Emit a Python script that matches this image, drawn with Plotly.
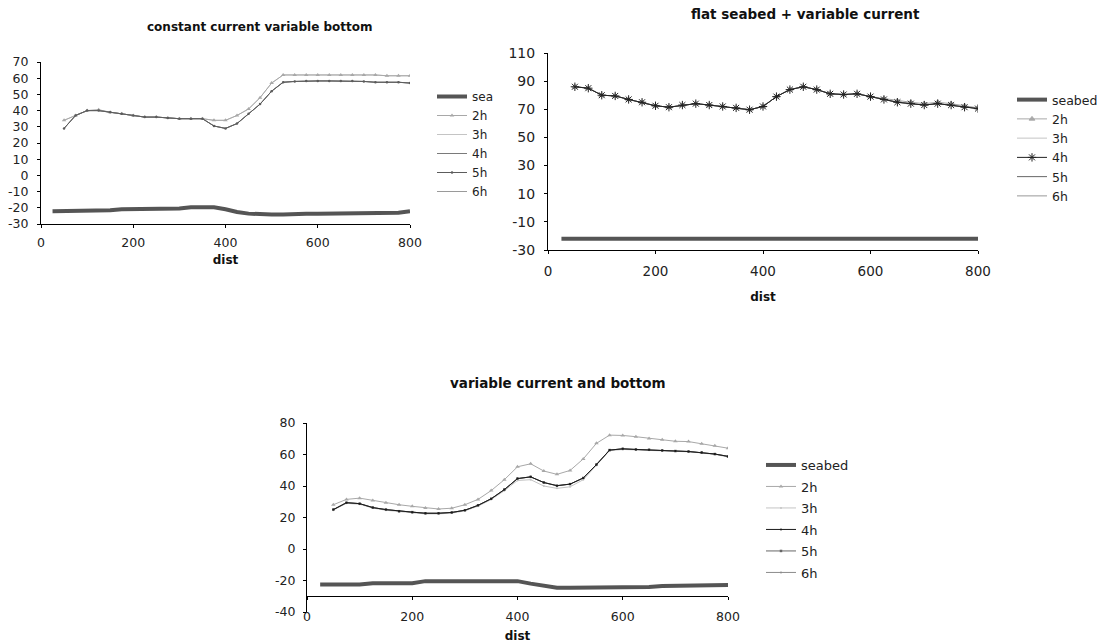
import plotly.graph_objects as go

# ---------------- data ----------------
dist_seabed = [25, 50, 75, 100, 125, 150, 175, 200, 225, 250, 275, 300, 325, 350, 375, 400,
               425, 450, 475, 500, 525, 550, 575, 600, 625, 650, 675, 700, 725, 750, 775, 800]
dist = [50, 75, 100, 125, 150, 175, 200, 225, 250, 275, 300, 325, 350, 375, 400,
        425, 450, 475, 500, 525, 550, 575, 600, 625, 650, 675, 700, 725, 750, 775, 800]

# chart 1: constant current variable bottom
cc_seabed = [-22.1, -22.1, -21.5, -21.5, -21.5, -21.5, -20.9, -20.9, -20.9, -20.5, -20.5, -20.5,
             -19.7, -19.7, -19.7, -20.9, -22.6, -23.6, -24.2, -24.2, -24.2, -23.6, -23.6, -23.6,
             -23.6, -23.6, -23.6, -23.6, -23.0, -23.0, -23.0, -22.1]
cc_upper = [34, 37, 40, 40.5, 39, 38, 37, 36, 36, 35.5, 35, 35, 35, 34, 34,
            37, 41, 48, 57, 62, 62, 62, 62, 62, 62, 62, 62, 62, 61.5, 61.5, 61.5]
cc_lower = [29, 37, 40, 40, 39, 38, 37, 36, 36, 35.5, 35, 35, 35, 30.5, 29,
            32, 38, 44, 52, 57.5, 58, 58.3, 58.3, 58.3, 58.3, 58.3, 58, 57.5, 57.5, 57.5, 57]

# chart 2: flat seabed + variable current
fc_seabed = [-22, -22, -22, -22, -22, -22, -22, -22, -22, -22, -22, -22, -22, -22, -22, -22,
             -22, -22, -22, -22, -22, -22, -22, -22, -22, -22, -22, -22, -22, -22, -22, -22]
fc_2h = [86, 85, 80, 79.5, 77, 75, 72.5, 71.5, 73, 74, 73, 72, 71, 69.7, 72,
         79, 84, 86, 84, 81, 80.5, 81, 79, 77.5, 76, 75, 74, 75, 74, 72.5, 71]
fc_4h = [86, 85, 80, 79.5, 77, 75, 72.5, 71.5, 73, 74, 73, 72, 71, 69.7, 72,
         79, 84, 86, 84, 81, 80.5, 81, 79, 77, 75, 74, 73, 74, 73, 71.5, 70.5]

# chart 3: variable current and bottom
vc_seabed = [-22.5, -22.5, -22.5, -22.5, -21.7, -21.7, -21.7, -21.7, -20.4, -20.4, -20.4, -20.4,
             -19.8, -19.8, -19.8, -20.4, -22.0, -23.5, -24.6, -24.6, -24.6, -24.1, -24.1, -24.1,
             -24.1, -24.1, -23.5, -23.5, -22.9, -22.9, -22.9, -22.9]
vc_2h = [28.1, 31.5, 32.3, 30.8, 29.4, 28.1, 27.1, 26.1, 25.4, 25.9, 28.1, 31.5, 37.1, 44, 52.2,
         54.1, 49.5, 47.4, 49.9, 57.2, 67.1, 72.3, 72.1, 71.3, 70.2, 69.4, 68.4, 68.2, 66.9, 65.5, 64]
vc_3h = [24.6, 29, 28.4, 26, 24.6, 23.6, 23, 22.3, 22.3, 22.8, 24.2, 27.2, 31.4, 37, 43.5,
         44, 40, 38.5, 39.5, 44, 53, 62.4, 63.2, 62.9, 62.7, 62.3, 62, 61.7, 61, 60, 58.5]
vc_4h = [25, 29.4, 28.8, 26.3, 25, 24, 23.4, 22.7, 22.7, 23.2, 24.6, 27.7, 31.9, 37.7, 44.7,
         45.8, 42.2, 40.2, 41.2, 45.1, 53.6, 62.8, 63.6, 63.2, 63, 62.6, 62.2, 61.9, 61.3, 60.3, 58.8]

series_names = ["2h", "3h", "4h", "5h", "6h"]
x_ticks = [0, 200, 400, 600, 800]
y1_ticks = [-30, -20, -10, 0, 10, 20, 30, 40, 50, 60, 70]
y2_ticks = [-30, -10, 10, 30, 50, 70, 90, 110]
y3_ticks = [-40, -20, 0, 20, 40, 60, 80]

W, H = 1114, 644
FONT = "DejaVu Sans"


def px_x(p):
    return p / W


def px_y(p):
    return 1 - p / H


fig = go.Figure()

# ---------- chart 1 ----------
fig.add_trace(go.Scatter(x=dist_seabed, y=cc_seabed, name="sea", mode="lines",
                         line=dict(color="#555555", width=4), xaxis="x", yaxis="y",
                         legend="legend", legendrank=1))
c1_data = {"2h": cc_upper, "3h": cc_upper, "4h": cc_lower, "5h": cc_lower, "6h": cc_lower}
c1_style = {"2h": ("#a8a8a8", "lines+markers", "triangle-up", 4),
            "3h": ("#c4c4c4", "lines", None, 0),
            "4h": ("#7a7a7a", "lines", None, 0),
            "5h": ("#5c5c5c", "lines+markers", "circle", 2.5),
            "6h": ("#9a9a9a", "lines", None, 0)}
for n in ["6h", "3h", "2h", "4h", "5h"]:
    col, mode, sym, ms = c1_style[n]
    fig.add_trace(go.Scatter(x=dist, y=c1_data[n], name=n, mode=mode,
                             line=dict(color=col, width=1),
                             marker=dict(symbol=sym or "circle", size=ms, color=col),
                             xaxis="x", yaxis="y", legend="legend",
                             legendrank=series_names.index(n) + 2))

# ---------- chart 2 ----------
fig.add_trace(go.Scatter(x=dist_seabed, y=fc_seabed, name="seabed", mode="lines",
                         line=dict(color="#555555", width=4), xaxis="x2", yaxis="y2",
                         legend="legend2", legendrank=1))
c2_data = {"2h": fc_2h, "3h": fc_4h, "4h": fc_4h, "5h": fc_4h, "6h": fc_4h}
c2_style = {"2h": ("#a8a8a8", "lines+markers", "triangle-up", 5),
            "3h": ("#c4c4c4", "lines", None, 0),
            "4h": ("#222222", "lines+markers", "asterisk-open", 7),
            "5h": ("#666666", "lines", None, 0),
            "6h": ("#999999", "lines", None, 0)}
for n in ["2h", "3h", "6h", "5h", "4h"]:
    col, mode, sym, ms = c2_style[n]
    fig.add_trace(go.Scatter(x=dist, y=c2_data[n], name=n, mode=mode,
                             line=dict(color=col, width=1),
                             marker=dict(symbol=sym or "circle", size=ms, color=col,
                                         line=dict(color=col, width=1)),
                             xaxis="x2", yaxis="y2", legend="legend2",
                             legendrank=series_names.index(n) + 2))

# ---------- chart 3 ----------
fig.add_trace(go.Scatter(x=dist_seabed, y=vc_seabed, name="seabed", mode="lines",
                         line=dict(color="#555555", width=4), xaxis="x3", yaxis="y3",
                         legend="legend3", legendgroup="s", legendrank=1))
c3_data = {"2h": vc_2h, "3h": vc_3h, "4h": vc_4h, "5h": vc_4h, "6h": vc_4h}
c3_style = {"2h": ("#a8a8a8", "triangle-up", 4),
            "3h": ("#c4c4c4", "circle", 2),
            "4h": ("#1a1a1a", "circle", 2),
            "5h": ("#666666", "square", 2.5),
            "6h": ("#8c8c8c", "circle", 2)}
for n in ["2h", "3h", "6h", "5h", "4h"]:
    col, sym, ms = c3_style[n]
    fig.add_trace(go.Scatter(x=dist, y=c3_data[n], name=n, mode="lines+markers",
                             line=dict(color=col, width=1),
                             marker=dict(symbol=sym, size=ms, color=col),
                             xaxis="x3", yaxis="y3", legend="legend3", legendgroup=n,
                             legendrank=series_names.index(n) + 2))


def ttext(vals):
    return [str(v) for v in vals]


def axis_common(size):
    return dict(showgrid=False, zeroline=False, showline=True, linecolor="#000000",
                linewidth=1, ticks="outside", ticklen=3, tickcolor="#000000",
                tickfont=dict(family=FONT, size=size, color="#222222"))


xtitle = dict(text="<b>dist</b>", font=dict(family=FONT, size=12, color="#111111"))

# domains (paper)
d1x = [px_x(41), px_x(410)]
d1y = [px_y(224), px_y(62)]
d2x = [px_x(548), px_x(978)]
d2y = [px_y(250), px_y(53)]
d3x = [px_x(307), px_x(728)]
d3y = [px_y(612), px_y(423)]
y3range = [-40, 80]
x3pos = d3y[0] + (-30 - y3range[0]) / (y3range[1] - y3range[0]) * (d3y[1] - d3y[0])

fig.update_layout(
    width=W, height=H,
    margin=dict(l=0, r=0, t=0, b=0, autoexpand=False),
    paper_bgcolor="white", plot_bgcolor="white",
    font=dict(family=FONT, color="#222222"),
    xaxis=dict(domain=d1x, range=[0, 800], tickvals=x_ticks, ticktext=ttext(x_ticks), anchor="y",
               title=dict(xtitle, standoff=6), ticklabelstandoff=4, **axis_common(12.5)),
    yaxis=dict(domain=d1y, range=[-30, 70], tickvals=y1_ticks, ticktext=ttext(y1_ticks),
               anchor="x", ticklabelstandoff=6, **axis_common(12.5)),
    xaxis2=dict(domain=d2x, range=[0, 800], tickvals=x_ticks, ticktext=ttext(x_ticks),
                anchor="y2", title=dict(xtitle, standoff=14), ticklabelstandoff=6,
                **axis_common(13.5)),
    yaxis2=dict(domain=d2y, range=[-30, 110], tickvals=y2_ticks, ticktext=ttext(y2_ticks),
                anchor="x2", ticklabelstandoff=6, **axis_common(14)),
    xaxis3=dict(domain=d3x, range=[0, 800], tickvals=x_ticks, ticktext=ttext(x_ticks),
                anchor="free", position=x3pos, title=dict(xtitle, standoff=8),
                ticklabelstandoff=6, **axis_common(12.5)),
    yaxis3=dict(domain=d3y, range=y3range, tickvals=y3_ticks, ticktext=ttext(y3_ticks),
                anchor="x3", ticklabelstandoff=5, **axis_common(12.5)),
    legend=dict(x=px_x(432), y=px_y(82), xanchor="left", yanchor="top",
                font=dict(family=FONT, size=12, color="#222222"), bgcolor="rgba(0,0,0,0)",
                itemwidth=30, traceorder="normal"),
    legend2=dict(x=px_x(1012), y=px_y(85), xanchor="left", yanchor="top",
                 font=dict(family=FONT, size=12.5, color="#222222"), bgcolor="rgba(0,0,0,0)",
                 itemwidth=30, traceorder="normal"),
    legend3=dict(x=px_x(761), y=px_y(450), xanchor="left", yanchor="top",
                 font=dict(family=FONT, size=13, color="#222222"), bgcolor="rgba(0,0,0,0)",
                 itemwidth=30, traceorder="grouped", tracegroupgap=1.6),
    annotations=[
        dict(text="<b>constant current variable bottom</b>", x=px_x(260), y=px_y(27),
             xref="paper", yref="paper", xanchor="center", yanchor="middle", showarrow=False,
             font=dict(family=FONT, size=12, color="#111111")),
        dict(text="<b>flat seabed + variable current</b>", x=px_x(805), y=px_y(14),
             xref="paper", yref="paper", xanchor="center", yanchor="middle", showarrow=False,
             font=dict(family=FONT, size=13.5, color="#111111")),
        dict(text="<b>variable current and bottom</b>", x=px_x(558), y=px_y(383),
             xref="paper", yref="paper", xanchor="center", yanchor="middle", showarrow=False,
             font=dict(family=FONT, size=13.5, color="#111111")),
    ],
)

fig.write_html("out.html", config={"displayModeBar": False},
               post_script="document.body.style.margin='0';document.body.style.overflow='hidden';")
